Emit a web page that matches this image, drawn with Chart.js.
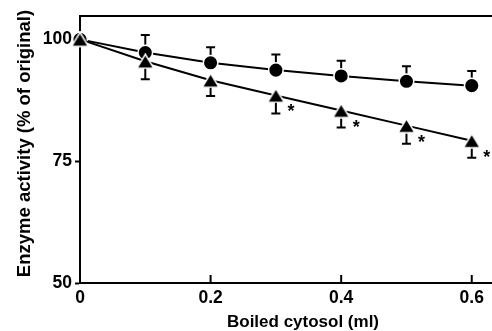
<!DOCTYPE html>
<html>
<head>
<meta charset="utf-8">
<script src="https://cdn.jsdelivr.net/npm/chart.js@4/dist/chart.umd.min.js"></script>
<style>
html,body{margin:0;padding:0;background:#fff;}
canvas{display:block;}
</style>
</head>
<body>
<canvas id="c" width="492" height="331"></canvas>
<script>
// ---- data ----
const xValues = [0, 0.1, 0.2, 0.3, 0.4, 0.5, 0.6];
const circleMean = [100, 97.3, 95.2, 93.7, 92.5, 91.4, 90.5];
const circleErr = [0, 3.6, 3.2, 3.2, 3.1, 3.1, 3.0];
const triangleMean = [100, 95.5, 91.6, 88.5, 85.4, 82.3, 79.2];
const triangleErr = [0, 3.7, 3.2, 3.7, 3.5, 3.7, 3.5];
const significant = [false, false, false, true, true, true, true];
const xTickValues = [0, 0.2, 0.4, 0.6];
const yTickValues = [50, 75, 100];
const xTitle = 'Boiled cytosol (ml)';
const yTitle = 'Enzyme activity (% of original)';

const FONT = "'Liberation Sans', Arial, Helvetica, sans-serif";

// triangle marker image (centred on its bounding box)
function makeTriangle() {
  const cv = document.createElement('canvas');
  cv.width = 19; cv.height = 16;
  const g = cv.getContext('2d');
  g.beginPath();
  g.moveTo(9.5, 1.0);
  g.lineTo(18.0, 15.0);
  g.lineTo(1.0, 15.0);
  g.closePath();
  g.fillStyle = '#000';
  g.fill();
  g.lineWidth = 1.5;
  g.strokeStyle = '#fff';
  g.stroke();
  return cv;
}
const triImg = makeTriangle();

const pts = (ys) => xValues.map((x, i) => ({x: x, y: ys[i]}));

const extrasPlugin = {
  id: 'extras',
  beforeDatasetsDraw(chart) {
    const ctx = chart.ctx, xs = chart.scales.x, ys = chart.scales.y;
    ctx.save();
    ctx.strokeStyle = '#000';
    ctx.lineWidth = 2;
    const cap = 4.5;
    xValues.forEach((x, i) => {
      const px = xs.getPixelForValue(x);
      if (circleErr[i] > 0) {
        const y0 = ys.getPixelForValue(circleMean[i]);
        const y1 = ys.getPixelForValue(circleMean[i] + circleErr[i]);
        ctx.beginPath();
        ctx.moveTo(px, y0); ctx.lineTo(px, y1);
        ctx.moveTo(px - cap, y1); ctx.lineTo(px + cap, y1);
        ctx.stroke();
      }
      if (triangleErr[i] > 0) {
        const y0 = ys.getPixelForValue(triangleMean[i]);
        const y1 = ys.getPixelForValue(triangleMean[i] - triangleErr[i]);
        ctx.beginPath();
        ctx.moveTo(px, y0); ctx.lineTo(px, y1);
        ctx.moveTo(px - cap, y1); ctx.lineTo(px + cap, y1);
        ctx.stroke();
      }
    });
    ctx.restore();
  },
  afterDatasetsDraw(chart) {
    const ctx = chart.ctx, xs = chart.scales.x, ys = chart.scales.y;
    ctx.save();
    ctx.fillStyle = '#000';
    ctx.font = 'bold 18px ' + FONT;
    ctx.textAlign = 'center';
    ctx.textBaseline = 'alphabetic';
    xValues.forEach((x, i) => {
      if (!significant[i]) return;
      const px = xs.getPixelForValue(x);
      const py = ys.getPixelForValue(triangleMean[i]);
      ctx.fillText('*', px + 15, py + 22);
    });
    ctx.restore();
  },
  afterDraw(chart) {
    const ctx = chart.ctx, a = chart.chartArea, xs = chart.scales.x;
    ctx.save();
    ctx.strokeStyle = '#000';
    ctx.lineWidth = 2;
    // top frame line
    ctx.beginPath();
    ctx.moveTo(a.left - 1, a.top);
    ctx.lineTo(chart.width, a.top);
    ctx.stroke();
    // inward x ticks
    xTickValues.forEach(v => {
      if (v === 0) return;
      const px = xs.getPixelForValue(v);
      ctx.beginPath();
      ctx.moveTo(px, a.bottom);
      ctx.lineTo(px, a.bottom - 8);
      ctx.stroke();
    });
    // axis titles
    ctx.fillStyle = '#000';
    ctx.font = 'bold 17px ' + FONT;
    ctx.textAlign = 'center';
    ctx.textBaseline = 'alphabetic';
    ctx.fillText(xTitle, 303, 327);
    ctx.save();
    ctx.translate(30, 143.5);
    ctx.rotate(-Math.PI / 2);
    ctx.font = 'bold 18.5px ' + FONT;
    ctx.textBaseline = 'alphabetic';
    ctx.fillText(yTitle, 0, 0);
    ctx.restore();
    ctx.restore();
  }
};

new Chart(document.getElementById('c'), {
  type: 'line',
  data: {
    datasets: [
      {
        label: 'triangle',
        data: pts(triangleMean),
        borderColor: '#000',
        borderWidth: 2,
        pointStyle: triImg,
        pointRadius: 8,
        clip: false,
        tension: 0
      },
      {
        label: 'circle',
        data: pts(circleMean),
        borderColor: '#000',
        borderWidth: 2,
        pointStyle: 'circle',
        pointRadius: 7.3,
        pointBackgroundColor: '#000',
        pointBorderColor: '#fff',
        pointBorderWidth: 1.5,
        clip: false,
        tension: 0
      }
    ]
  },
  options: {
    responsive: false,
    devicePixelRatio: 1,
    animation: false,
    events: [],
    layout: {autoPadding: false, padding: {top: 16, left: 0, right: 0, bottom: 0}},
    plugins: {legend: {display: false}, tooltip: {enabled: false}},
    scales: {
      x: {
        type: 'linear',
        min: 0,
        max: 0.631,
        afterFit(s) { s.height = 48; s.paddingLeft = 0; s.paddingRight = 0; },
        afterBuildTicks(s) { s.ticks = xTickValues.map(v => ({value: v})); },
        ticks: {
          color: '#000',
          font: {family: FONT, size: 17.5, weight: 'bold'},
          padding: 5,
          maxRotation: 0,
          callback: v => (v === 0 ? '0' : v.toFixed(1))
        },
        grid: {drawOnChartArea: false, drawTicks: false},
        border: {color: '#000', width: 2}
      },
      y: {
        type: 'linear',
        min: 50,
        max: 104.8,
        afterFit(s) { s.width = 80; s.paddingTop = 0; s.paddingBottom = 0; },
        afterBuildTicks(s) { s.ticks = yTickValues.map(v => ({value: v})); },
        ticks: {
          color: '#000',
          font: {family: FONT, size: 17.5, weight: 'bold'},
          padding: 3,
          callback: v => String(v)
        },
        grid: {drawOnChartArea: false, drawTicks: true, tickLength: 5, tickColor: '#000', tickWidth: 2},
        border: {color: '#000', width: 2}
      }
    }
  },
  plugins: [extrasPlugin]
});
</script>
</body>
</html>
